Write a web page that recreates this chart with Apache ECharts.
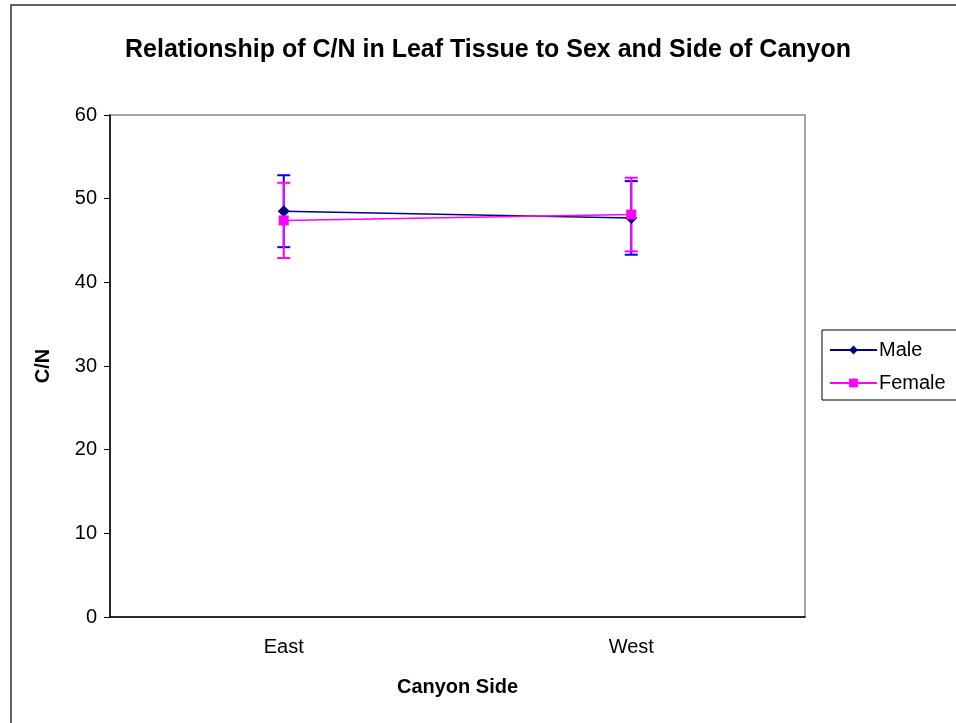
<!DOCTYPE html>
<html>
<head>
<meta charset="utf-8">
<script src="https://cdn.jsdelivr.net/npm/echarts@6/dist/echarts.min.js"></script>
<style>
html,body{margin:0;padding:0;background:#fff;}
#chart{width:956px;height:723px;}
</style>
</head>
<body>
<div id="chart"></div>
<script>
var categories = ['East', 'West'];
var maleMeans = [48.5, 47.7];
var maleErr = [4.3, 4.4];
var femaleMeans = [47.4, 48.1];
var femaleErr = [4.5, 4.4];

function errData(means, errs){
	var out = [];
	for(var i=0;i<means.length;i++){
		out.push([i, means[i]-errs[i], means[i]+errs[i]]);
	}
	return out;
}

// vertical bar with two caps
function errRender(color){
	return function(params, api){
		var x = api.value(0);
		var lo = api.coord([x, api.value(1)]);
		var hi = api.coord([x, api.value(2)]);
		var w = 6.5;
		var style = {stroke: color, lineWidth: 2};
		return {
			type: 'group',
			children: [
				{type:'line', shape:{x1:lo[0], y1:lo[1], x2:hi[0], y2:hi[1]}, style:style},
				{type:'line', shape:{x1:hi[0]-w, y1:hi[1], x2:hi[0]+w, y2:hi[1]}, style:style},
				{type:'line', shape:{x1:lo[0]-w, y1:lo[1], x2:lo[0]+w, y2:lo[1]}, style:style}
			]
		};
	};
}

var chart = echarts.init(document.getElementById('chart'));
var option = {
	backgroundColor: '#fff',
	animation: false,
	textStyle: {fontFamily: 'Liberation Sans, Arial, sans-serif'},
	graphic: [{
		type: 'rect',
		shape: {x: 11, y: 5, width: 1000, height: 800},
		style: {fill: 'none', stroke: '#333', lineWidth: 1.5},
		silent: true
	}],
	title: {
		text: 'Relationship of C/N in Leaf Tissue to Sex and Side of Canyon',
		left: 120,
		top: 33,
		textStyle: {fontSize: 25, fontWeight: 'bold', color: '#000'}
	},
	legend: {
		orient: 'vertical',
		left: 822,
		top: 330,
		padding: [10, 40, 7, 7],
		itemWidth: 47,
		itemHeight: 11,
		itemGap: 13,
		borderColor: '#000',
		borderWidth: 1,
		textStyle: {fontSize: 20, color: '#000', padding: [0, 0, 0, -3]},
		data: ['Male', 'Female']
	},
	grid: {
		left: 110,
		right: 151,
		top: 115,
		bottom: 106,
		show: true,
		borderColor: '#888',
		borderWidth: 1.5
	},
	xAxis: {
		type: 'category',
		data: categories,
		boundaryGap: true,
		name: 'Canyon Side',
		nameLocation: 'middle',
		nameGap: 60,
		nameTextStyle: {fontSize: 20, fontWeight: 'bold', color: '#000'},
		axisLine: {lineStyle: {color: '#000', width: 1.5}},
		axisTick: {length: 7, lineStyle: {color: '#000'}},
		axisLabel: {fontSize: 20, color: '#000', margin: 20}
	},
	yAxis: {
		type: 'value',
		min: 0,
		max: 60,
		interval: 10,
		name: 'C/N',
		nameLocation: 'middle',
		nameGap: 57,
		nameTextStyle: {fontSize: 20, fontWeight: 'bold', color: '#000'},
		axisLine: {show: true, lineStyle: {color: '#000', width: 1.5}},
		axisTick: {show: true, length: 6, lineStyle: {color: '#000'}},
		axisLabel: {fontSize: 20, color: '#000', margin: 13},
		splitLine: {show: false}
	},
	series: [
		{
			name: 'Male',
			type: 'line',
			data: maleMeans,
			symbol: 'diamond',
			symbolSize: 12,
			color: '#000080',
			lineStyle: {width: 1.5, color: '#000080'},
			itemStyle: {color: '#000080'},
			z: 3
		},
		{
			name: 'Female',
			type: 'line',
			data: femaleMeans,
			symbol: 'rect',
			symbolSize: 10,
			color: '#ff00ff',
			lineStyle: {width: 1.5, color: '#ff00ff'},
			itemStyle: {color: '#ff00ff'},
			z: 4
		},
		{
			name: 'Male error',
			type: 'custom',
			data: errData(maleMeans, maleErr),
			renderItem: errRender('#0000ff'),
			z: 1
		},
		{
			name: 'Female error',
			type: 'custom',
			data: errData(femaleMeans, femaleErr),
			renderItem: errRender('#ff00ff'),
			z: 2
		}
	]
};
chart.setOption(option);
</script>
</body>
</html>
